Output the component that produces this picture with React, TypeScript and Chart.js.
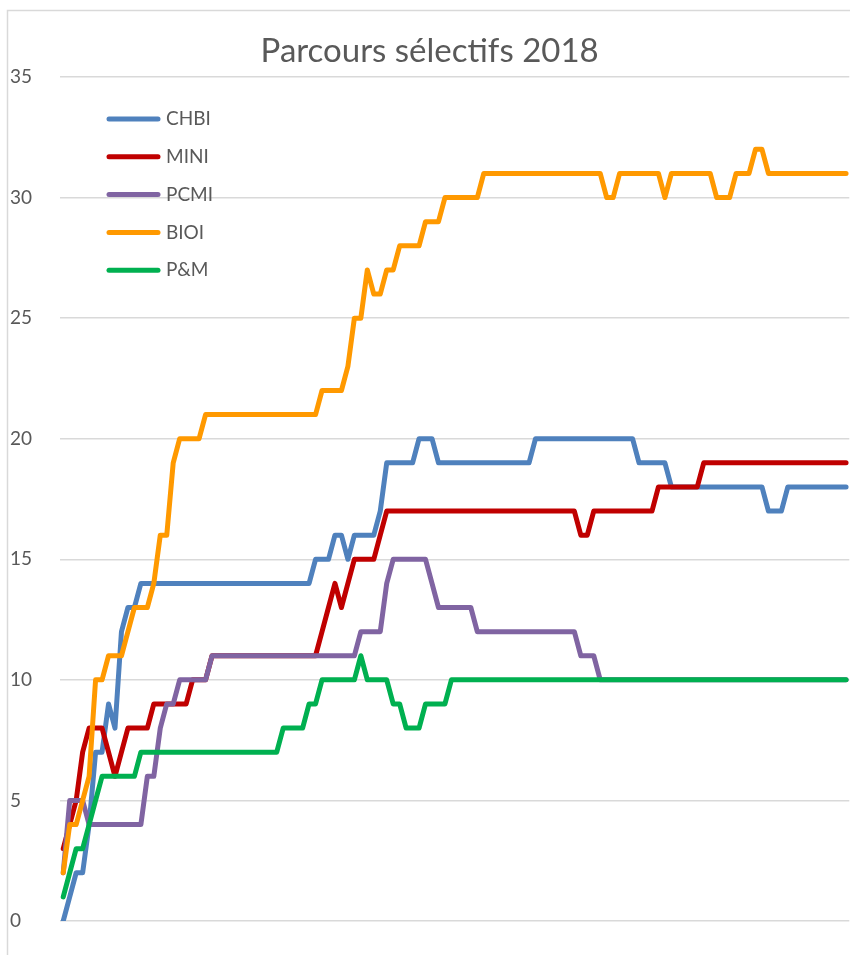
import React, { useEffect, useRef } from "react";
import { Chart, registerables } from "chart.js";

Chart.register(...registerables);

const chartTitle = "Parcours sélectifs 2018";
const seriesNames = ["CHBI", "MINI", "PCMI", "BIOI", "P&M"];
const seriesColors = ["#4F81BD", "#C00000", "#8064A2", "#FF9900", "#00B050"];
const yTicks = [0, 5, 10, 15, 20, 25, 30, 35];

const chbi = [
  0, 1, 2, 2, 4, 7, 7, 9, 8, 12, 13, 13, 14,
  14, 14, 14, 14, 14, 14, 14, 14, 14, 14, 14, 14, 14, 14, 14, 14, 14, 14, 14, 14, 14, 14, 14, 14, 14, 14,
  15, 15, 15, 16, 16, 15, 16, 16, 16, 16, 17,
  19, 19, 19, 19, 19, 20, 20, 20,
  19, 19, 19, 19, 19, 19, 19, 19, 19, 19, 19, 19, 19, 19, 19,
  20, 20, 20, 20, 20, 20, 20, 20, 20, 20, 20, 20, 20, 20, 20, 20,
  19, 19, 19, 19, 19,
  18, 18, 18, 18, 18, 18, 18, 18, 18, 18, 18, 18, 18, 18, 18,
  17, 17, 17,
  18, 18, 18, 18, 18, 18, 18, 18, 18, 18,
];

const mini = [
  3, 4, 5, 7, 8, 8, 8, 7, 6, 7, 8, 8, 8, 8,
  9, 9, 9, 9, 9, 9,
  10, 10, 10,
  11, 11, 11, 11, 11, 11, 11, 11, 11, 11, 11, 11, 11, 11, 11, 11, 11,
  12, 13, 14, 13, 14,
  15, 15, 15, 15, 16,
  17, 17, 17, 17, 17, 17, 17, 17, 17, 17, 17, 17, 17, 17, 17,
  17, 17, 17, 17, 17, 17, 17, 17, 17, 17, 17, 17, 17, 17, 17,
  16, 16,
  17, 17, 17, 17, 17, 17, 17, 17, 17, 17,
  18, 18, 18, 18, 18, 18, 18,
  19, 19, 19, 19, 19, 19, 19, 19, 19, 19, 19, 19, 19, 19, 19, 19, 19, 19, 19, 19, 19, 19, 19,
];

const pcmi = [
  2, 5, 5, 5, 4,
  4, 4, 4, 4, 4, 4, 4, 4,
  6, 6, 8, 9, 9,
  10, 10, 10, 10, 10,
  11, 11, 11, 11, 11, 11, 11, 11, 11, 11, 11, 11, 11, 11, 11, 11, 11, 11, 11, 11, 11, 11, 11,
  12, 12, 12, 12,
  14,
  15, 15, 15, 15, 15, 15,
  14,
  13, 13, 13, 13, 13, 13,
  12, 12, 12, 12, 12, 12, 12, 12, 12, 12, 12, 12, 12, 12, 12, 12,
  11, 11, 11,
  10, 10, 10, 10, 10, 10, 10, 10, 10, 10, 10, 10, 10, 10, 10, 10, 10, 10, 10, 10,
  10, 10, 10, 10, 10, 10, 10, 10, 10, 10, 10, 10, 10, 10, 10, 10, 10, 10, 10,
];

const bioi = [
  2, 4, 4, 5, 6, 10, 10, 11, 11, 11, 12, 13, 13, 13, 14, 16, 16, 19, 20, 20, 20, 20,
  21, 21, 21, 21, 21, 21, 21, 21, 21, 21, 21, 21, 21, 21, 21, 21, 21, 21,
  22, 22, 22, 22,
  23, 25, 25, 27, 26, 26, 27, 27,
  28, 28, 28, 28,
  29, 29, 29,
  30, 30, 30, 30, 30, 30,
  31, 31, 31, 31, 31, 31, 31, 31, 31, 31, 31, 31, 31, 31, 31, 31, 31, 31, 31,
  30, 30,
  31, 31, 31, 31, 31, 31, 31,
  30,
  31, 31, 31, 31, 31, 31, 31,
  30, 30, 30,
  31, 31, 31,
  32, 32,
  31, 31, 31, 31, 31, 31, 31, 31, 31, 31, 31, 31, 31,
];

const pm = [
  1, 2, 3, 3, 4, 5, 6, 6, 6, 6, 6, 6,
  7, 7, 7, 7, 7, 7, 7, 7, 7, 7, 7, 7, 7, 7, 7, 7, 7, 7, 7, 7, 7, 7,
  8, 8, 8, 8,
  9, 9,
  10, 10, 10, 10, 10, 10,
  11,
  10, 10, 10, 10,
  9, 9,
  8, 8, 8,
  9, 9, 9, 9,
  10, 10, 10, 10, 10, 10, 10, 10, 10, 10, 10, 10, 10, 10, 10, 10, 10, 10, 10, 10, 10,
  10, 10, 10, 10, 10, 10, 10, 10, 10, 10, 10, 10, 10, 10, 10, 10, 10, 10, 10, 10, 10,
  10, 10, 10, 10, 10, 10, 10, 10, 10, 10, 10, 10, 10, 10, 10, 10, 10, 10, 10, 10,
];

const seriesValues = [chbi, mini, pcmi, bioi, pm];
const days = chbi.map((_, i) => String(i + 1));

const TEXT = "#595959";
const FONT = "Lato, 'Open Sans', sans-serif";

const framePlugin = {
  id: "frame",
  beforeDraw(chart: any) {
    const ctx = chart.ctx;
    ctx.save();
    ctx.fillStyle = "#ffffff";
    ctx.fillRect(0, 0, chart.width, chart.height);
    ctx.strokeStyle = "#d9d9d9";
    ctx.lineWidth = 1.5;
    ctx.beginPath();
    ctx.moveTo(7.5, chart.height);
    ctx.lineTo(7.5, 10.5);
    ctx.lineTo(chart.width, 10.5);
    ctx.stroke();
    ctx.restore();
  },
};

const insideLegend = {
  id: "insideLegend",
  afterDatasetsDraw(chart: any) {
    const ctx = chart.ctx;
    const area = chart.chartArea;
    ctx.save();
    chart.data.datasets.forEach((ds: any, i: number) => {
      const y = area.top + 42 + i * 37.8;
      const x0 = area.left + 47;
      ctx.strokeStyle = ds.borderColor;
      ctx.lineWidth = 5;
      ctx.lineCap = "round";
      ctx.beginPath();
      ctx.moveTo(x0 + 2, y);
      ctx.lineTo(x0 + 51, y);
      ctx.stroke();
      ctx.fillStyle = TEXT;
      ctx.font = `19px ${FONT}`;
      ctx.textBaseline = "middle";
      ctx.textAlign = "left";
      ctx.fillText(ds.label, x0 + 59, y);
    });
    ctx.restore();
  },
};

export default function App() {
  const ref = useRef<HTMLCanvasElement | null>(null);

  useEffect(() => {
    if (!ref.current) return;
    const chart = new Chart(ref.current, {
      type: "line",
      data: {
        labels: days,
        datasets: seriesNames.map((name, i) => ({
          label: name,
          data: seriesValues[i],
          borderColor: seriesColors[i],
          backgroundColor: seriesColors[i],
          borderWidth: 5,
          borderJoinStyle: "round" as const,
          borderCapStyle: "round" as const,
          pointRadius: 0,
          pointHoverRadius: 0,
          tension: 0,
          fill: false,
          order: seriesNames.length - i,
        })),
      },
      options: {
        animation: false,
        responsive: false,
        maintainAspectRatio: false,
        events: [],
        layout: { padding: { left: 10, right: 0.7, top: 32, bottom: 34 } },
        plugins: {
          legend: { display: false },
          tooltip: { enabled: false },
          title: {
            display: true,
            text: chartTitle,
            color: TEXT,
            font: { family: FONT, size: 33, weight: "normal" as any },
            padding: { top: 0, bottom: 5.4 },
          },
        },
        scales: {
          x: {
            type: "category",
            display: false,
            offset: true,
            grid: { display: false },
          },
          y: {
            min: 0,
            max: 35,
            afterFit: (scale: any) => {
              scale.width = 50;
            },
            afterBuildTicks: (scale: any) => {
              scale.ticks = yTicks.map((v) => ({ value: v }));
            },
            border: { display: false },
            grid: { color: "#d9d9d9", lineWidth: 1.5, drawTicks: false },
            ticks: {
              color: TEXT,
              font: { family: FONT, size: 19 },
              crossAlign: "far",
              padding: 0,
            },
          },
        },
      },
      plugins: [framePlugin, insideLegend],
    });
    return () => chart.destroy();
  }, []);

  return (
    <div style={{ position: "absolute", left: 0, top: 0, width: 850, height: 955 }}>
      <canvas ref={ref} width={850} height={955} style={{ display: "block" }} />
    </div>
  );
}
